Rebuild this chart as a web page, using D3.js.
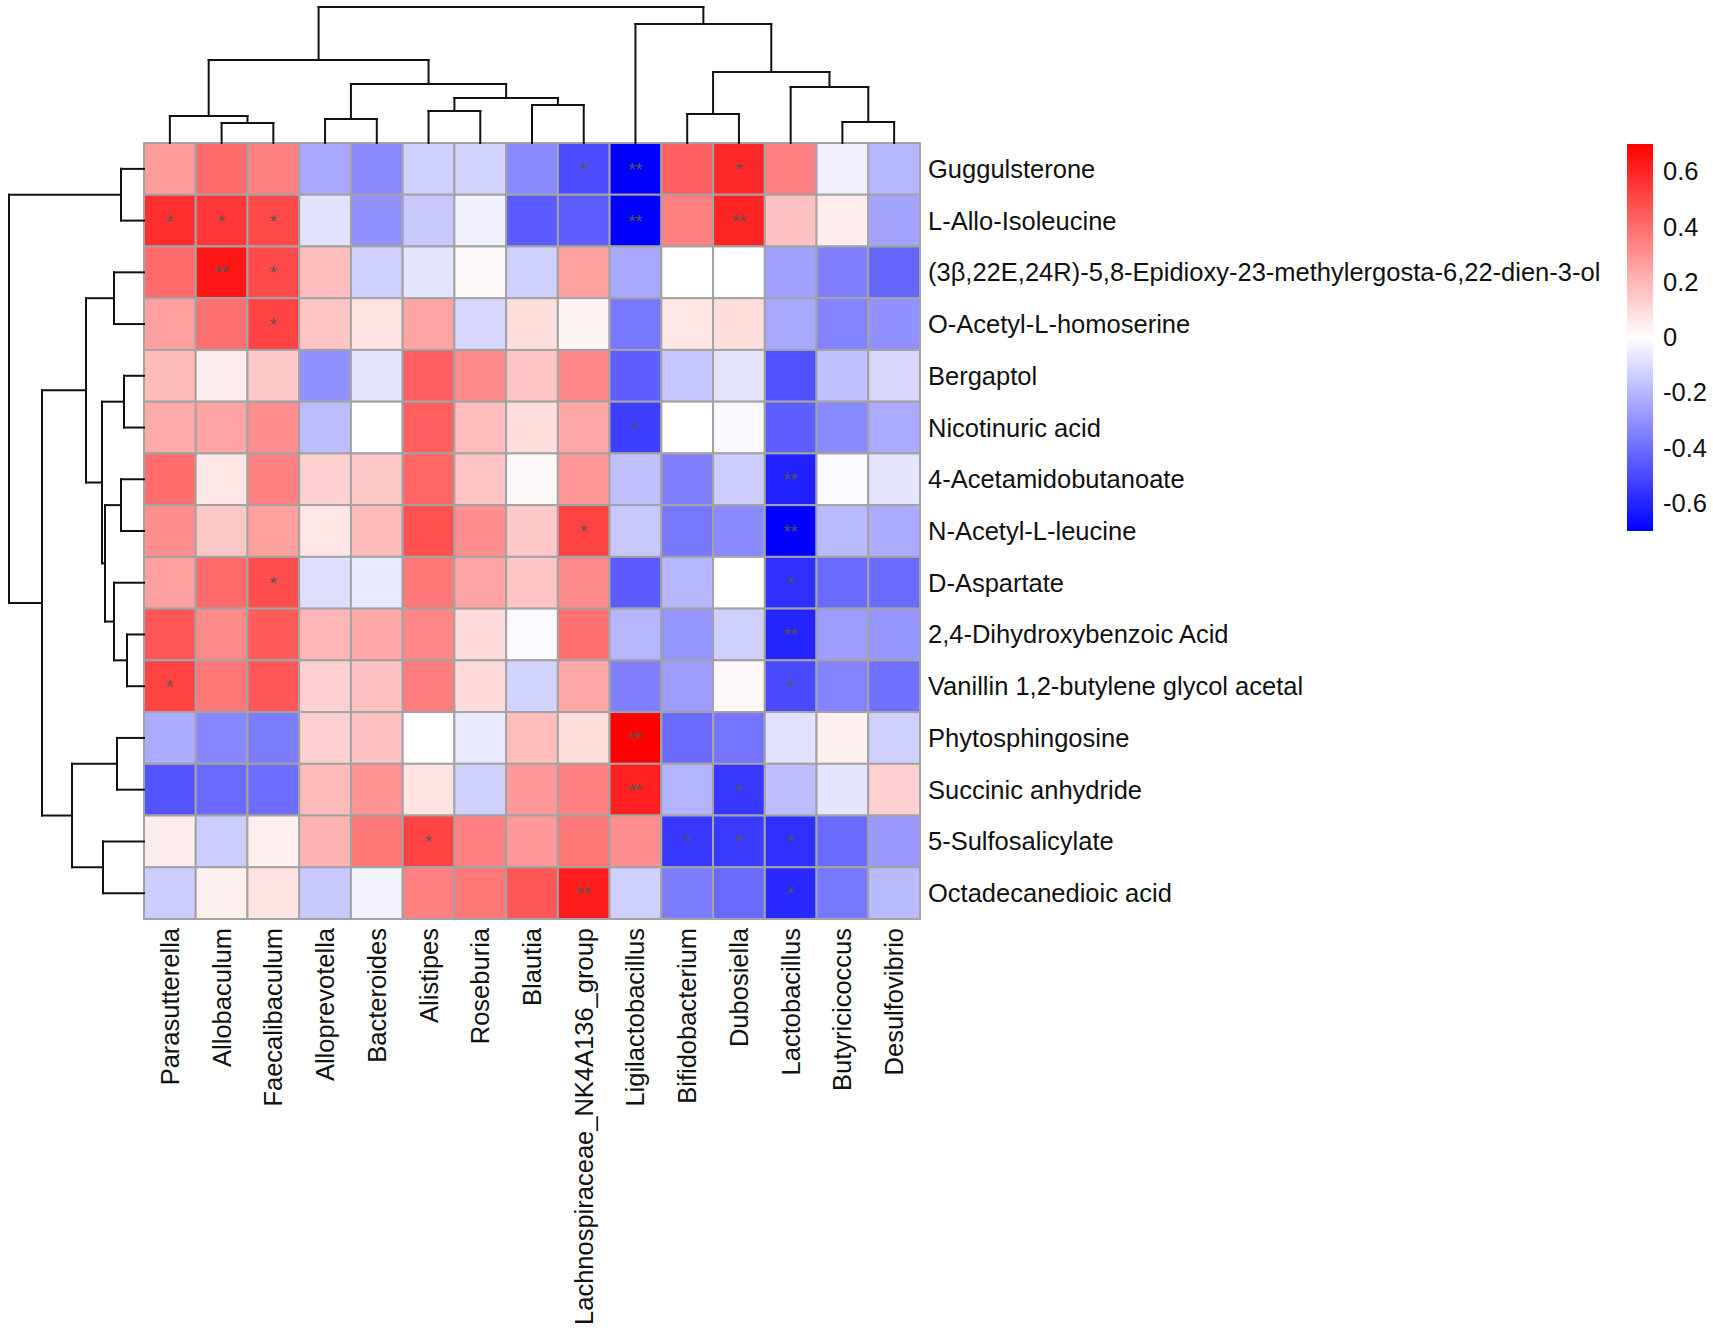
<!DOCTYPE html>
<html>
<head>
<meta charset="utf-8">
<script src="https://cdn.jsdelivr.net/npm/d3@7"></script>
<style>
body{margin:0;background:#fff;}
text{font-family:"Liberation Sans",Arial,sans-serif;}
</style>
</head>
<body>
<svg id="chart" width="1713" height="1336"></svg>
<script>
var rowNames = ["Guggulsterone","L-Allo-Isoleucine","(3\u03b2,22E,24R)-5,8-Epidioxy-23-methylergosta-6,22-dien-3-ol",
	"O-Acetyl-L-homoserine","Bergaptol","Nicotinuric acid","4-Acetamidobutanoate","N-Acetyl-L-leucine",
	"D-Aspartate","2,4-Dihydroxybenzoic Acid","Vanillin 1,2-butylene glycol acetal","Phytosphingosine",
	"Succinic anhydride","5-Sulfosalicylate","Octadecanedioic acid"];

var colNames = ["Parasutterella","Allobaculum","Faecalibaculum","Alloprevotella","Bacteroides","Alistipes",
	"Roseburia","Blautia","Lachnospiraceae_NK4A136_group","Ligilactobacillus","Bifidobacterium","Dubosiella",
	"Lactobacillus","Butyricicoccus","Desulfovibrio"];

// correlation values, one row per metabolite, columns in colNames order
var corr = [
	[ 0.27, 0.41, 0.35,-0.24,-0.32,-0.13,-0.12,-0.32,-0.49,-0.70, 0.44, 0.59, 0.35,-0.04,-0.20],
	[ 0.57, 0.55, 0.50,-0.08,-0.30,-0.15,-0.04,-0.45,-0.44,-0.70, 0.35, 0.60, 0.17, 0.05,-0.25],
	[ 0.41, 0.64, 0.50, 0.18,-0.13,-0.07, 0.02,-0.13, 0.26,-0.24, 0.00, 0.00,-0.26,-0.35,-0.42],
	[ 0.26, 0.39, 0.52, 0.16, 0.08, 0.25,-0.11, 0.09, 0.03,-0.37, 0.07, 0.09,-0.24,-0.34,-0.30],
	[ 0.19, 0.05, 0.15,-0.30,-0.07, 0.44, 0.32, 0.16, 0.33,-0.44,-0.16,-0.07,-0.48,-0.17,-0.11],
	[ 0.23, 0.25, 0.31,-0.18, 0.00, 0.44, 0.18, 0.09, 0.24,-0.53, 0.00,-0.02,-0.44,-0.32,-0.23],
	[ 0.40, 0.07, 0.35, 0.13, 0.15, 0.42, 0.16, 0.02, 0.28,-0.17,-0.35,-0.14,-0.61,-0.01,-0.07],
	[ 0.31, 0.15, 0.26, 0.07, 0.19, 0.48, 0.31, 0.15, 0.52,-0.15,-0.37,-0.32,-0.70,-0.19,-0.23],
	[ 0.26, 0.41, 0.49,-0.09,-0.06, 0.37, 0.25, 0.16, 0.32,-0.45,-0.20, 0.00,-0.57,-0.41,-0.41],
	[ 0.46, 0.32, 0.45, 0.20, 0.24, 0.33, 0.10,-0.01, 0.39,-0.20,-0.29,-0.13,-0.60,-0.27,-0.29],
	[ 0.52, 0.37, 0.46, 0.13, 0.17, 0.36, 0.10,-0.12, 0.24,-0.35,-0.27, 0.02,-0.50,-0.34,-0.39],
	[-0.23,-0.33,-0.36, 0.13, 0.17, 0.00,-0.06, 0.18, 0.09, 0.70,-0.41,-0.38,-0.08, 0.04,-0.13],
	[-0.47,-0.41,-0.40, 0.19, 0.30, 0.08,-0.13, 0.28, 0.35, 0.61,-0.21,-0.55,-0.18,-0.07, 0.13],
	[ 0.05,-0.14, 0.04, 0.21, 0.37, 0.52, 0.35, 0.28, 0.37, 0.31,-0.55,-0.54,-0.57,-0.41,-0.28],
	[-0.14, 0.04, 0.08,-0.15,-0.03, 0.35, 0.37, 0.46, 0.62,-0.13,-0.36,-0.41,-0.59,-0.37,-0.19]
];

// significance marks, same layout as corr
var signif = [
	["","","","","","","","","*","**","","*","","",""],
	["*","*","*","","","","","","","**","","**","","",""],
	["","**","*","","","","","","","","","","","",""],
	["","","*","","","","","","","","","","","",""],
	["","","","","","","","","","","","","","",""],
	["","","","","","","","","","*","","","","",""],
	["","","","","","","","","","","","","**","",""],
	["","","","","","","","","*","","","","**","",""],
	["","","*","","","","","","","","","","*","",""],
	["","","","","","","","","","","","","**","",""],
	["*","","","","","","","","","","","","*","",""],
	["","","","","","","","","","**","","","","",""],
	["","","","","","","","","","**","","*","","",""],
	["","","","","","*","","","","","*","*","*","",""],
	["","","","","","","","","**","","","","*","",""]
];

// hclust style merges: negative = leaf (-1 is first), positive = earlier merge (1-based), then height
var colMerge = [
	[-2,-3,20],[-1,1,27],[-4,-5,24],[-6,-7,32],[-8,-9,38],[4,5,45],[3,6,59],[2,7,83],
	[-11,-12,29],[-14,-15,21],[-13,10,56],[9,11,71],[-10,12,119],[8,13,136]
];
var rowMerge = [
	[-1,-2,23],[-3,-4,30],[-5,-6,20],[-7,-8,23],[-10,-11,17],[-9,5,30],[4,6,39],[3,7,42],
	[2,8,58],[-12,-13,27],[-14,-15,41],[10,11,72],[9,12,102],[1,13,135]
];

var legendTicks = [0.6,0.4,0.2,0,-0.2,-0.4,-0.6];
var legendRange = [-0.7,0.7];

var W = 1713, H = 1336;
var hmX = 144, hmY = 143, hmSize = 776;
var dendH = 136;

var svg = d3.select("#chart");
svg.append("rect").attr("width",W).attr("height",H).attr("fill","#fff");

var color = d3.scaleLinear()
	.domain([legendRange[0],0,legendRange[1]])
	.range(["#0000ff","#ffffff","#ff0000"])
	.clamp(true);

var xB = d3.scaleBand().domain(d3.range(colNames.length)).range([hmX,hmX+hmSize]);
var yB = d3.scaleBand().domain(d3.range(rowNames.length)).range([hmY,hmY+hmSize]);

var cells = [];
corr.forEach(function(r,i){
	r.forEach(function(v,j){ cells.push({r:i,c:j,v:v,s:signif[i][j]}); });
});

var g = svg.append("g");
g.selectAll(".cell")
	.data(cells)
	.enter().append("rect")
	.attr("class","cell")
	.attr("x",function(d){return xB(d.c);})
	.attr("y",function(d){return yB(d.r);})
	.attr("width",xB.bandwidth())
	.attr("height",yB.bandwidth())
	.attr("fill",function(d){return color(d.v);})
	.attr("stroke","#a3a3a3")
	.attr("stroke-width",2);

g.selectAll(".star")
	.data(cells.filter(function(d){return d.s != "";}))
	.enter().append("text")
	.attr("class","star")
	.attr("x",function(d){return xB(d.c)+xB.bandwidth()/2;})
	.attr("y",function(d){return yB(d.r)+yB.bandwidth()/2+7;})
	.attr("text-anchor","middle")
	.attr("font-size",18)
	.attr("fill","#555")
	.text(function(d){return d.s;});

// labels
svg.append("g").selectAll("text")
	.data(rowNames)
	.enter().append("text")
	.attr("x",hmX+hmSize+8)
	.attr("y",function(d,i){return yB(i)+yB.bandwidth()/2;})
	.attr("dominant-baseline","central")
	.attr("font-size",25.5)
	.attr("fill","#111")
	.text(function(d){return d;});

svg.append("g").selectAll("text")
	.data(colNames)
	.enter().append("text")
	.attr("transform",function(d,i){return "translate("+(xB(i)+xB.bandwidth()/2)+","+(hmY+hmSize+9)+") rotate(-90)";})
	.attr("text-anchor","end")
	.attr("dominant-baseline","central")
	.attr("font-size",25.5)
	.attr("fill","#111")
	.text(function(d){return d;});

/* dendrograms */

function buildTree(merge,pos){
	// returns list of segments [x1,y1,x2,y2] in (leafPos, height) space
	var nodes = [], segs = [];
	function get(k){
		if(k < 0) return {p:pos(-k-1),h:0};
		return nodes[k-1];
	}
	merge.forEach(function(m){
		var a = get(m[0]), b = get(m[1]), h = m[2];
		segs.push([a.p,a.h,a.p,h]);
		segs.push([b.p,b.h,b.p,h]);
		segs.push([a.p,h,b.p,h]);
		nodes.push({p:(a.p+b.p)/2,h:h});
	});
	return segs;
}

var hTop = d3.scaleLinear().domain([0,dendH]).range([hmY,hmY-dendH]);
var colSegs = buildTree(colMerge,function(i){return xB(i)+xB.bandwidth()/2;});
svg.append("g").selectAll("line")
	.data(colSegs)
	.enter().append("line")
	.attr("x1",function(d){return d[0];})
	.attr("y1",function(d){return hTop(d[1]);})
	.attr("x2",function(d){return d[2];})
	.attr("y2",function(d){return hTop(d[3]);})
	.attr("stroke","#111")
	.attr("stroke-width",2)
	.attr("stroke-linecap","square");

var hLeft = d3.scaleLinear().domain([0,dendH]).range([hmX,hmX-dendH]);
var rowSegs = buildTree(rowMerge,function(i){return yB(i)+yB.bandwidth()/2;});
svg.append("g").selectAll("line")
	.data(rowSegs)
	.enter().append("line")
	.attr("y1",function(d){return d[0];})
	.attr("x1",function(d){return hLeft(d[1]);})
	.attr("y2",function(d){return d[2];})
	.attr("x2",function(d){return hLeft(d[3]);})
	.attr("stroke","#111")
	.attr("stroke-width",2)
	.attr("stroke-linecap","square");

/* colour legend */

var lgX = 1627, lgW = 26, lgY0 = 144, lgY1 = 531;
var ly = d3.scaleLinear().domain(legendRange).range([lgY1,lgY0]);

var grad = svg.append("defs").append("linearGradient")
	.attr("id","lg").attr("x1",0).attr("y1",1).attr("x2",0).attr("y2",0);
grad.selectAll("stop")
	.data(d3.range(0,1.0001,0.05))
	.enter().append("stop")
	.attr("offset",function(d){return d;})
	.attr("stop-color",function(d){return color(legendRange[0]+d*(legendRange[1]-legendRange[0]));});

svg.append("rect")
	.attr("x",lgX).attr("y",lgY0)
	.attr("width",lgW).attr("height",lgY1-lgY0)
	.attr("fill","url(#lg)");

// plain hyphen for negatives, like the original
var lAxis = d3.axisRight(ly).tickValues(legendTicks).tickSize(0).tickPadding(10)
	.tickFormat(function(d){return d == 0 ? "0" : d.toFixed(1);});
var la = svg.append("g").attr("transform","translate("+(lgX+lgW)+",0)").call(lAxis);
la.select(".domain").remove();
la.selectAll("text").attr("font-size",25.5).attr("fill","#111")
	.attr("font-family","Liberation Sans, Arial, sans-serif");
</script>
</body>
</html>
